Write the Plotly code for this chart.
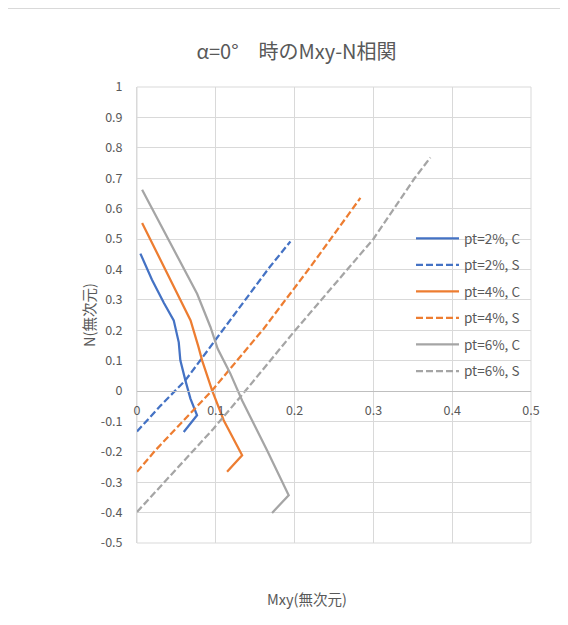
import plotly.graph_objects as go

# ---- data ----
c2_x = [0.0043, 0.019, 0.034, 0.0466, 0.053, 0.055, 0.0614, 0.0678, 0.0762, 0.0593]
c2_y = [0.452, 0.366, 0.290, 0.2325, 0.160, 0.101, 0.035, -0.025, -0.080, -0.135]

s2_x = [0.0, 0.03, 0.0614, 0.0995, 0.1185, 0.167, 0.1947]
s2_y = [-0.133, -0.048, 0.035, 0.167, 0.232, 0.403, 0.492]

c4_x = [0.0065, 0.0297, 0.057, 0.068, 0.078, 0.0826, 0.0953, 0.110, 0.1334, 0.1143]
c4_y = [0.553, 0.432, 0.293, 0.232, 0.145, 0.101, 0.002, -0.096, -0.2115, -0.266]

s4_x = [0.0, 0.0234, 0.0953, 0.1608, 0.22, 0.2835]
s4_y = [-0.266, -0.195, 0.002, 0.205, 0.408, 0.635]

c6_x = [0.0065, 0.0382, 0.0763, 0.0932, 0.1024, 0.1185, 0.1334, 0.165, 0.1925, 0.1714]
c6_y = [0.662, 0.507, 0.320, 0.2105, 0.139, 0.057, -0.031, -0.195, -0.343, -0.401]

s6_x = [0.0, 0.097, 0.131, 0.199, 0.3, 0.352, 0.3723]
s6_y = [-0.398, -0.124, -0.02, 0.194, 0.5, 0.699, 0.768]

series_names = ["pt=2%, C", "pt=2%, S", "pt=4%, C", "pt=4%, S", "pt=6%, C", "pt=6%, S"]
series_colors = ["#4472C4", "#4472C4", "#ED7D31", "#ED7D31", "#A5A5A5", "#A5A5A5"]
series_dash = ["solid", "7px,3px", "solid", "7px,3px", "solid", "7px,3px"]
series_x = [c2_x, s2_x, c4_x, s4_x, c6_x, s6_x]
series_y = [c2_y, s2_y, c4_y, s4_y, c6_y, s6_y]

x_ticks = [0, 0.1, 0.2, 0.3, 0.4, 0.5]
x_tick_labels = ["0", "0.1", "0.2", "0.3", "0.4", "0.5"]
y_ticks = [1, 0.9, 0.8, 0.7, 0.6, 0.5, 0.4, 0.3, 0.2, 0.1, 0, -0.1, -0.2, -0.3, -0.4, -0.5]
y_tick_labels = ["1", "0.9", "0.8", "0.7", "0.6", "0.5", "0.4", "0.3", "0.2", "0.1", "0",
                 "-0.1", "-0.2", "-0.3", "-0.4", "-0.5"]

title_text = "α=0°　時のMxy-N相関"
x_title = "Mxy(無次元)"
y_title = "N(無次元)"

# ---- layout geometry (page pixels; page has an 8px body margin) ----
OFF = 8
W, H = 568, 625
L, R, T, B = 137 - OFF, 531 - OFF, 87 - OFF, 543 - OFF
pw, ph = R - L, B - T


def px_x(p):
    return (p - OFF - L) / pw


def px_y(p):
    return (B - (p - OFF)) / ph


TEXT = "#595959"
GRID = "#d9d9d9"
FONT = "Noto Sans CJK JP"

fig = go.Figure()
for i in range(6):
    fig.add_trace(go.Scatter(
        x=series_x[i], y=series_y[i], mode="lines", name=series_names[i],
        legendgroup=str(i),
        line=dict(color=series_colors[i], width=2.25, dash=series_dash[i]),
    ))

fig.update_layout(
    width=W, height=H,
    margin=dict(l=L, r=W - R, t=T, b=H - B),
    paper_bgcolor="white", plot_bgcolor="white",
    font=dict(family=FONT, color=TEXT, size=12),
    title=dict(text=title_text, xref="container", yref="container",
               x=(296.5 - OFF) / W, y=1 - (52 - OFF) / H, xanchor="center", yanchor="middle",
               font=dict(family=FONT, size=20, color=TEXT)),
    showlegend=True,
    legend=dict(x=px_x(411), y=px_y(223), xanchor="left", yanchor="top",
                bgcolor="rgba(0,0,0,0)", itemwidth=43, tracegroupgap=6,
                font=dict(family=FONT, size=13.5, color=TEXT)),
    xaxis=dict(range=[0, 0.5], tickvals=x_ticks, ticktext=x_tick_labels,
               anchor="free", position=1 / 3,
               showgrid=True, gridcolor=GRID, gridwidth=1,
               zeroline=False, showline=True, linecolor="#bfbfbf", linewidth=1,
               ticks="", ticklabelstandoff=8,
               tickfont=dict(family=FONT, size=12.5, color=TEXT)),
    yaxis=dict(range=[-0.5, 1], tickvals=y_ticks, ticktext=y_tick_labels,
               showgrid=True, gridcolor=GRID, gridwidth=1,
               zeroline=False, showline=True, linecolor=GRID, linewidth=1,
               ticks="", ticklabelstandoff=11,
               tickfont=dict(family=FONT, size=12.5, color=TEXT)),
)

fig.add_shape(type="rect", xref="paper", yref="paper", x0=0, y0=0, x1=1, y1=1,
              line=dict(color=GRID, width=1), layer="below")
# chart-area border (top edge visible)
fig.add_shape(type="line", xref="paper", yref="paper",
              x0=px_x(8), y0=px_y(8.5), x1=px_x(640), y1=px_y(8.5),
              line=dict(color=GRID, width=1), layer="below")

fig.add_annotation(text=y_title, xref="paper", yref="paper",
                   x=px_x(88), y=0.5, textangle=-90, showarrow=False,
                   xanchor="center", yanchor="middle",
                   font=dict(family=FONT, size=14.5, color=TEXT))
fig.add_annotation(text=x_title, xref="paper", yref="paper",
                   x=px_x(307), y=px_y(598), showarrow=False,
                   xanchor="center", yanchor="middle",
                   font=dict(family=FONT, size=14.5, color=TEXT))

fig.write_html("out.html")
